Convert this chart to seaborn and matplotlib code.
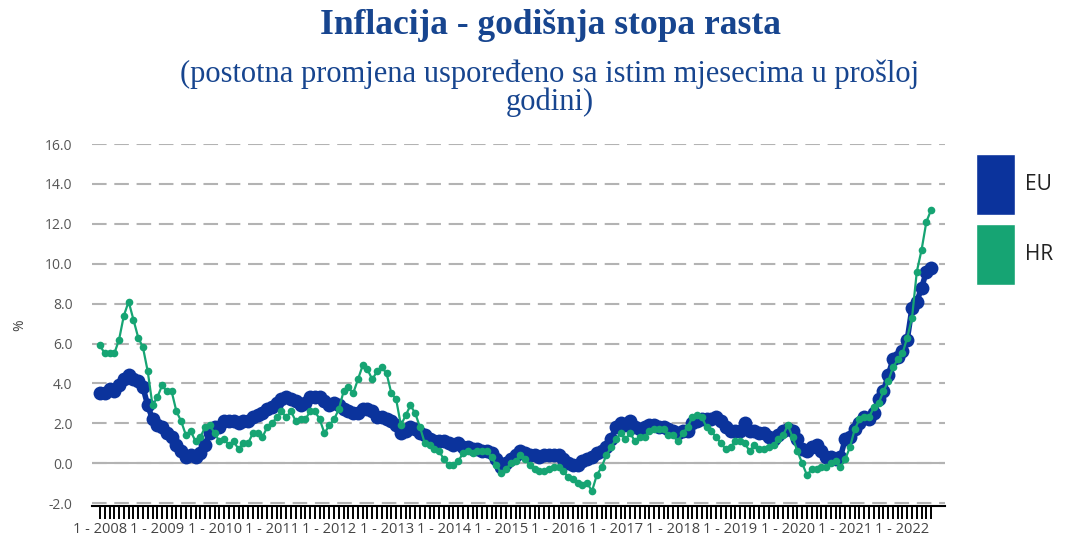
import numpy as np
import pandas as pd
import seaborn as sns
import matplotlib.pyplot as plt
from matplotlib.patches import Patch
from matplotlib.ticker import FixedLocator, FixedFormatter

# Monthly annual inflation rates, Jan 2008 - Jul 2022
years = list(range(2008, 2023))
eu_values = [
    3.5, 3.5, 3.7, 3.6, 3.9, 4.2, 4.4, 4.2, 4.1, 3.8, 2.9, 2.2,   # 2008
    1.9, 1.8, 1.5, 1.3, 0.9, 0.6, 0.3, 0.4, 0.3, 0.5, 0.9, 1.5,   # 2009
    1.8, 1.8, 2.1, 2.1, 2.1, 2.0, 2.1, 2.1, 2.3, 2.4, 2.5, 2.7,   # 2010
    2.8, 3.0, 3.2, 3.3, 3.2, 3.1, 2.9, 3.0, 3.3, 3.3, 3.3, 3.1,   # 2011
    2.9, 3.0, 2.9, 2.7, 2.6, 2.5, 2.5, 2.7, 2.7, 2.6, 2.3, 2.3,   # 2012
    2.2, 2.1, 1.9, 1.5, 1.6, 1.8, 1.7, 1.5, 1.4, 1.2, 1.1, 1.1,   # 2013
    1.1, 1.0, 0.9, 1.0, 0.8, 0.8, 0.7, 0.7, 0.6, 0.6, 0.5, 0.2,   # 2014
    -0.2, 0.0, 0.2, 0.4, 0.6, 0.5, 0.4, 0.4, 0.3, 0.4, 0.4, 0.4,  # 2015
    0.4, 0.2, 0.0, -0.1, -0.1, 0.1, 0.2, 0.3, 0.5, 0.6, 0.8, 1.2, # 2016
    1.8, 2.0, 1.9, 2.1, 1.8, 1.7, 1.8, 1.9, 1.9, 1.8, 1.8, 1.7,   # 2017
    1.6, 1.5, 1.6, 1.6, 2.0, 2.1, 2.2, 2.2, 2.2, 2.3, 2.1, 1.8,   # 2018
    1.6, 1.6, 1.6, 2.0, 1.6, 1.6, 1.5, 1.5, 1.3, 1.2, 1.4, 1.6,   # 2019
    1.7, 1.6, 1.2, 0.7, 0.6, 0.8, 0.9, 0.6, 0.3, 0.3, 0.2, 0.3,   # 2020
    1.2, 1.3, 1.7, 2.0, 2.3, 2.2, 2.5, 3.2, 3.6, 4.4, 5.2, 5.3,   # 2021
    5.6, 6.2, 7.8, 8.1, 8.8, 9.6, 9.8,                            # 2022
]
hr_values = [
    5.9, 5.5, 5.5, 5.5, 6.2, 7.4, 8.1, 7.2, 6.3, 5.8, 4.6, 2.9,   # 2008
    3.3, 3.9, 3.6, 3.6, 2.6, 2.1, 1.4, 1.6, 1.1, 1.3, 1.8, 1.9,   # 2009
    1.5, 1.1, 1.2, 0.9, 1.1, 0.7, 1.0, 1.0, 1.5, 1.5, 1.3, 1.8,   # 2010
    2.0, 2.3, 2.6, 2.3, 2.6, 2.1, 2.2, 2.2, 2.6, 2.6, 2.2, 1.5,   # 2011
    1.9, 2.2, 2.7, 3.6, 3.8, 3.5, 4.2, 4.9, 4.7, 4.2, 4.6, 4.8,   # 2012
    4.5, 3.5, 3.2, 1.9, 2.4, 2.9, 2.5, 1.8, 1.0, 0.9, 0.7, 0.6,   # 2013
    0.2, -0.1, -0.1, 0.1, 0.5, 0.6, 0.5, 0.6, 0.6, 0.6, 0.3, -0.1,       # 2014
    -0.5, -0.3, 0.0, 0.1, 0.4, 0.2, -0.1, -0.3, -0.4, -0.4, -0.3, -0.2,  # 2015
    -0.2, -0.4, -0.7, -0.8, -1.0, -1.1, -1.0, -1.4, -0.6, -0.2, 0.4, 0.8, # 2016
    1.2, 1.5, 1.2, 1.5, 1.1, 1.3, 1.3, 1.6, 1.7, 1.7, 1.7, 1.4,   # 2017
    1.4, 1.1, 1.5, 1.8, 2.3, 2.4, 2.3, 1.8, 1.6, 1.3, 1.0, 0.7,   # 2018
    0.8, 1.1, 1.1, 1.0, 0.6, 0.9, 0.7, 0.7, 0.8, 0.9, 1.2, 1.4,   # 2019
    1.9, 1.3, 0.6, 0.0, -0.6, -0.3, -0.3, -0.2, -0.2, 0.0, 0.1, -0.2,  # 2020
    0.2, 0.8, 1.7, 2.2, 2.3, 2.3, 2.8, 3.0, 3.6, 4.1, 4.8, 5.2,   # 2021
    5.5, 6.3, 7.3, 9.6, 10.7, 12.1, 12.7,                         # 2022
]
series_names = ['EU', 'HR']
y_ticks = [-2, 0, 2, 4, 6, 8, 10, 12, 14, 16]

eu_color = '#0b339c'
hr_color = '#16a473'
title_color = '#17458f'

month_idx = np.arange(len(eu_values))
df = pd.DataFrame({'mjesec': month_idx, 'EU': eu_values, 'HR': hr_values})
df = df.melt(id_vars='mjesec', value_vars=series_names,
             var_name='serija', value_name='stopa')

sns.set_style("white")
plt.rcParams['font.family'] = ['Open Sans', 'DejaVu Sans']

fig = plt.figure(figsize=(10.66, 5.39), dpi=100)
ax = fig.add_axes([92 / 1066, 1 - 505.5 / 539, 853 / 1066, 361.5 / 539])

# grid: dashed, zero line solid
ax.set_ylim(-2.12, 16.0)
ax.yaxis.set_major_locator(FixedLocator(y_ticks))
ax.yaxis.set_major_formatter(FixedFormatter([f'{v:.1f}' for v in y_ticks]))
ax.yaxis.grid(True, linestyle=(0, (7, 3.7)), color='#b3b3b3', linewidth=1.5)
ax.axhline(0, color='#b3b3b3', linewidth=1.5, zorder=1)
ax.set_axisbelow(True)

sns.lineplot(data=df[df.serija == 'EU'], x='mjesec', y='stopa', ax=ax,
             color=eu_color, linewidth=4, marker='o', markersize=10,
             markeredgewidth=0, zorder=3)
sns.lineplot(data=df[df.serija == 'HR'], x='mjesec', y='stopa', ax=ax,
             color=hr_color, linewidth=1.6, marker='o', markersize=5.5,
             markeredgewidth=0, zorder=4)

# x axis: tick comb for each month, labels at each January
ax.set_xlim(-1.67, 176.9)
ax.xaxis.set_major_locator(FixedLocator([12 * k for k in range(len(years))]))
ax.xaxis.set_major_formatter(FixedFormatter([f'1 - {y}' for y in years]))
ax.xaxis.set_minor_locator(FixedLocator(list(month_idx)))
ax.tick_params(axis='x', which='both', length=9, width=1.4, color='black',
               direction='out', bottom=True)
ax.tick_params(axis='x', which='major', pad=3, labelsize=10.5, labelcolor='#444444')
ax.tick_params(axis='y', length=0, pad=14, labelsize=10, labelcolor='#555555')

for side in ['top', 'right', 'left']:
    ax.spines[side].set_visible(False)
ax.spines['bottom'].set_color('black')
ax.spines['bottom'].set_linewidth(1.5)

ax.set_xlabel('')
ax.set_ylabel('%', fontsize=10, color='#444444', labelpad=13)

# titles
fig.text(550 / 1066, 1 - 25 / 539, 'Inflacija - godišnja stopa rasta',
         ha='center', va='center', fontsize=25.5, fontweight='bold',
         family='Liberation Serif', color=title_color)
fig.text(550 / 1066, 1 - 88 / 539,
         '(postotna promjena uspoređeno sa istim mjesecima u prošloj\ngodini)',
         ha='center', va='center', fontsize=22, family='Liberation Serif',
         color=title_color, linespacing=0.92)

handles = [Patch(facecolor=eu_color, label='EU'), Patch(facecolor=hr_color, label='HR')]
fig.legend(handles=handles, loc='upper left', bbox_to_anchor=(976 / 1066, 1 - 154 / 539),
           frameon=False, fontsize=15, handlelength=1.85, handleheight=4.1,
           handletextpad=0.5, labelspacing=0.45, borderpad=0, borderaxespad=0,
           labelcolor='#222222')

plt.savefig('out.png', dpi=100)
